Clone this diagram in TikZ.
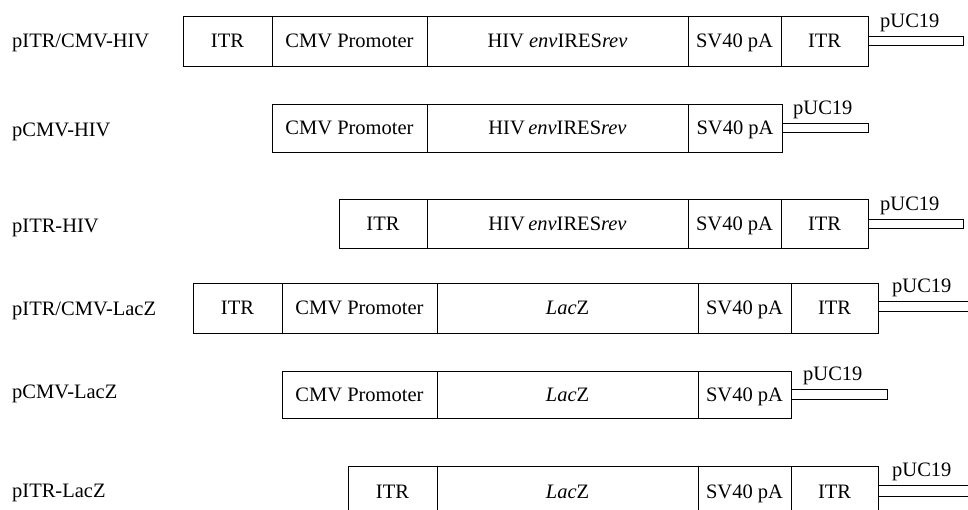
\documentclass[tikz,border=0pt]{standalone}
\usepackage{fontspec}
\setmainfont{Liberation Serif}
\begin{document}
\begin{tikzpicture}[x=1pt,y=-1pt,
  txt/.style={font=\fontsize{20.5}{24}\selectfont},
  cell/.style={txt, draw, line width=0.8pt, inner sep=0pt, outer sep=0pt, anchor=north west, text height=13.5pt, text depth=0pt},
  bar/.style={draw, line width=0.8pt, inner sep=0pt, outer sep=0pt, minimum height=9pt, anchor=west},
  lab/.style={txt, anchor=west, inner sep=0pt, text height=13.5pt, text depth=0pt},
  puc/.style={txt, anchor=south west, inner sep=0pt},
  open/.style={line width=0.8pt}]
\clip (0,0) rectangle (968,510);
% Row 1
\node[lab] (al) at (12,41) {pITR/CMV-HIV};
\node[cell, minimum width=89pt, minimum height=50pt] (a1) at (183,16) {ITR};
\node[cell, minimum width=155pt, minimum height=50pt] (a2) at (a1.north east) {CMV Promoter};
\node[cell, minimum width=261pt, minimum height=50pt] (a3) at (a2.north east) {HIV \textit{env}IRES\textit{rev}};
\node[cell, minimum width=93pt, minimum height=50pt] (a4) at (a3.north east) {SV40 pA};
\node[cell, minimum width=87pt, minimum height=50pt] (a5) at (a4.north east) {ITR};
\node[bar, minimum width=95pt] (a6) at (a5.east) {};
\node[puc] (a7) at ([xshift=12pt,yshift=4pt]a6.north west) {pUC19};
% Row 2
\node[lab] (bl) at (12,130) {pCMV-HIV};
\node[cell, minimum width=155pt, minimum height=48pt] (b2) at (272,104) {CMV Promoter};
\node[cell, minimum width=261pt, minimum height=48pt] (b3) at (b2.north east) {HIV\,\textit{env}IRES\textit{rev}};
\node[cell, minimum width=94pt, minimum height=48pt] (b4) at (b3.north east) {SV40 pA};
\node[bar, minimum width=86pt] (b6) at (b4.east) {};
\node[puc] (b7) at ([xshift=11pt,yshift=4pt]b6.north west) {pUC19};
% Row 3
\node[lab] (cl) at (12,226) {pITR-HIV};
\node[cell, minimum width=88pt, minimum height=49pt] (c1) at (339,199) {ITR};
\node[cell, minimum width=261pt, minimum height=49pt] (c3) at (c1.north east) {HIV\,\textit{env}IRES\textit{rev}};
\node[cell, minimum width=93pt, minimum height=49pt] (c4) at (c3.north east) {SV40 pA};
\node[cell, minimum width=87pt, minimum height=49pt] (c5) at (c4.north east) {ITR};
\node[bar, minimum width=95pt] (c6) at (c5.east) {};
\node[puc] (c7) at ([xshift=12pt,yshift=4pt]c6.north west) {pUC19};
% Row 4
\node[lab] (dl) at (12,309) {pITR/CMV-LacZ};
\node[cell, minimum width=89pt, minimum height=50pt] (d1) at (193,283) {ITR};
\node[cell, minimum width=155pt, minimum height=50pt] (d2) at (d1.north east) {CMV Promoter};
\node[cell, minimum width=261pt, minimum height=50pt] (d3) at (d2.north east) {\textit{Lac}Z};
\node[cell, minimum width=93pt, minimum height=50pt] (d4) at (d3.north east) {SV40 pA};
\node[cell, minimum width=87pt, minimum height=50pt] (d5) at (d4.north east) {ITR};
\coordinate (d6a) at (972,301);
\coordinate (d6b) at (972,311);
\draw[open] (d5.east |- d6a) -- (d6a);
\draw[open] (d5.east |- d6b) -- (d6b);
\node[puc] (d7) at ([xshift=14pt,yshift=4pt]d5.east |- d6a) {pUC19};
% Row 5
\node[lab] (el) at (12,392) {pCMV-LacZ};
\node[cell, minimum width=155pt, minimum height=47pt] (e2) at (282,371) {CMV Promoter};
\node[cell, minimum width=261pt, minimum height=47pt] (e3) at (e2.north east) {\textit{Lac}Z};
\node[cell, minimum width=93pt, minimum height=47pt] (e4) at (e3.north east) {SV40 pA};
\node[bar, minimum width=96pt, minimum height=10pt] (e6) at (e4.east) {};
\node[puc] (e7) at ([xshift=12pt,yshift=4pt]e6.north west) {pUC19};
% Row 6
\node[lab] (fl) at (12,491) {pITR-LacZ};
\node[cell, minimum width=89pt, minimum height=52pt] (f1) at (348,466) {ITR};
\node[cell, minimum width=261pt, minimum height=52pt] (f3) at (f1.north east) {\textit{Lac}Z};
\node[cell, minimum width=93pt, minimum height=52pt] (f4) at (f3.north east) {SV40 pA};
\node[cell, minimum width=87pt, minimum height=52pt] (f5) at (f4.north east) {ITR};
\coordinate (f6a) at (972,485);
\coordinate (f6b) at (972,496);
\draw[open] (f5.east |- f6a) -- (f6a);
\draw[open] (f5.east |- f6b) -- (f6b);
\node[puc] (f7) at ([xshift=14pt,yshift=4pt]f5.east |- f6a) {pUC19};
\end{tikzpicture}
\end{document}
